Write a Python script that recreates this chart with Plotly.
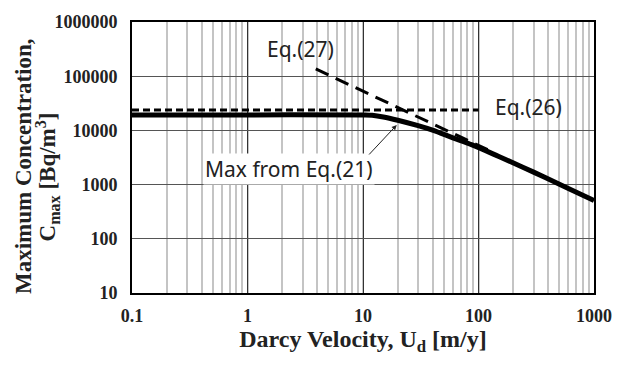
import plotly.graph_objects as go

# Data
u_max21 = [0.1, 1, 10, 12, 15, 20, 30, 40, 60, 88, 150, 300, 600, 1000]
c_max21 = [19300, 19300, 19300, 19000, 17700, 15400, 12200, 10100, 7300, 5400, 3300, 1700, 850, 510]
u_eq26 = [0.1, 100]
c_eq26 = [23700, 23700]
u_eq27 = [3.9, 120]
c_eq27 = [136000, 4400]

x_tickvals = [0.1, 1, 10, 100, 1000]
x_ticktext = ["0.1", "1", "10", "100", "1000"]
y_tickvals = [10, 100, 1000, 10000, 100000, 1000000]
y_ticktext = ["10", "100", "1000", "10000", "100000", "1000000"]

serif = "Liberation Serif, Times New Roman, serif"
sans = "Noto Sans, Open Sans, sans-serif"

fig = go.Figure()
fig.add_trace(go.Scatter(x=u_eq26, y=c_eq26, mode="lines",
                         line=dict(color="black", width=3, dash="7px,4px"), showlegend=False))
fig.add_trace(go.Scatter(x=u_eq27, y=c_eq27, mode="lines",
                         line=dict(color="black", width=3, dash="14px,8px"), showlegend=False))
fig.add_trace(go.Scatter(x=u_max21, y=c_max21, mode="lines", line_shape="spline",
                         line=dict(color="black", width=5), showlegend=False))

fig.update_xaxes(type="log", range=[-1, 3], tickvals=x_tickvals, ticktext=x_ticktext,
                 tickfont=dict(family=serif, size=18, color="#222", weight="bold"),
                 showgrid=True, gridcolor="#333", gridwidth=1,
                 minor=dict(showgrid=True, gridcolor="#c4c4c4", gridwidth=1.5, dtick="D1"),
                 showline=True, linecolor="black", linewidth=2, mirror=True,
                 ticks="", ticklabelstandoff=5,
                 title=dict(text="Darcy Velocity, U<sub>d</sub> [m/y]",
                            font=dict(family=serif, size=24, color="#222", weight="bold"),
                            standoff=3),
                 zeroline=False)
fig.update_yaxes(type="log", range=[1, 6], tickvals=y_tickvals, ticktext=y_ticktext,
                 tickfont=dict(family=serif, size=18, color="#222", weight="bold"),
                 showgrid=True, gridcolor="#555", gridwidth=1,
                 showline=True, linecolor="black", linewidth=2, mirror=True,
                 ticks="", ticklabelstandoff=9, zeroline=False)

# y-axis title (two lines)
fig.add_annotation(xref="paper", yref="paper", x=-0.235, y=0.47, xanchor="center", yanchor="middle",
                   text="Maximum Concentration,", textangle=-90, showarrow=False,
                   font=dict(family=serif, size=23, color="#222", weight="bold"))
fig.add_annotation(xref="paper", yref="paper", x=-0.184, y=0.43, xanchor="center", yanchor="middle",
                   text="C<sub>max</sub> [Bq/m<sup>3</sup>]", textangle=-90, showarrow=False,
                   font=dict(family=serif, size=23, color="#222", weight="bold"))

# labels
lab_font = dict(family=sans, size=21, color="#222")
fig.add_annotation(x=0.463, y=5.51, xref="x", yref="y", text="Eq.(27)", showarrow=False,
                   font=lab_font, xanchor="center", yanchor="middle")
fig.add_annotation(x=2.129, y=4.44, xref="x", yref="y", text="Eq.(26)", showarrow=False,
                   font=lab_font, xanchor="left", yanchor="middle")
fig.add_annotation(x=0.3615, y=3.28, xref="x", yref="y", text="Max from Eq.(21)", showarrow=False,
                   font=lab_font, xanchor="center", yanchor="middle", bgcolor="white")
fig.add_annotation(x=1.292, y=4.10, xref="x", yref="y", text="", showarrow=True,
                   ax=-29, ay=31, arrowhead=2, arrowsize=1, arrowwidth=1, arrowcolor="#222")

fig.update_layout(width=624, height=367, margin=dict(l=132, r=19, t=19, b=74),
                  plot_bgcolor="white", paper_bgcolor="white")
fig.write_html("out.html")
